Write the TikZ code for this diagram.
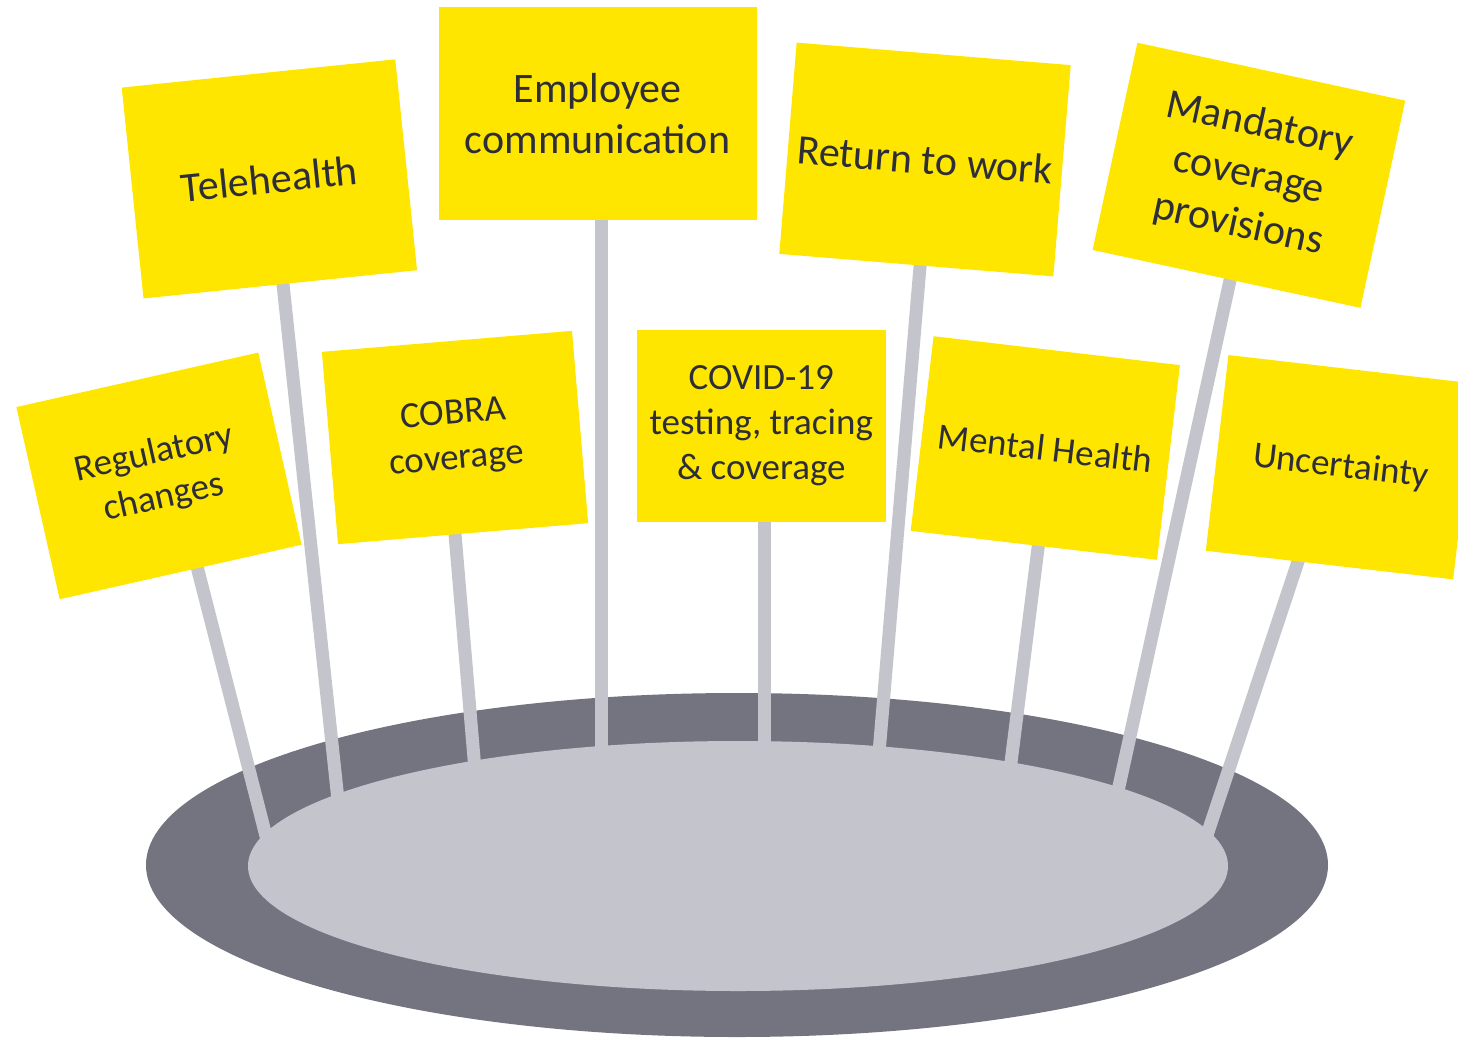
\documentclass[tikz,border=0pt]{standalone}
\usepackage{fontspec}
\setmainfont{Carlito}
\definecolor{signyellow}{HTML}{FFE600}
\definecolor{signtext}{HTML}{2E2E38}
\definecolor{basedark}{HTML}{747480}
\definecolor{baselight}{HTML}{C4C4CD}
\tikzset{sign/.style={
		rectangle, fill=signyellow, text=signtext, inner sep=0pt, align=center,
		font=\fontsize{37}{45}\selectfont
}}
\tikzset{bigsign/.style={
		sign, font=\fontsize{42}{51}\selectfont
}}
\tikzset{pole/.style={
		draw=baselight, line width=13pt
}}

\begin{document}
\begin{tikzpicture}[x=1pt,y=-1pt]
  \useasboundingbox (0,0) rectangle (1458,1039);
  \clip (0,0) rectangle (1458,1039);

  % base
  \fill[basedark] (737,865) ellipse [x radius=591, y radius=172];
  \fill[baselight] (738,866) ellipse [x radius=490, y radius=125];

  % poles
  \draw[pole] (180,500) -- (267,840);
  \draw[pole] (274,200) -- (338,800);
  \draw[pole] (447,440) -- (475,770);
  \draw[pole] (601,120) -- (601,755);
  \draw[pole] (764.5,430) -- (764.5,750);
  \draw[pole] (929,160) -- (878.4,760);
  \draw[pole] (1050.4,450) -- (1009.4,775);
  \draw[pole] (1252,180) -- (1116,800);
  \draw[pole] (1328.5,470) -- (1205.3,840);

  % signs, back row
  \node[bigsign, minimum width=275pt, minimum height=212pt, rotate=5.9] (tele) at (269.4,178.9) {Telehealth};
  \node[bigsign, minimum width=318pt, minimum height=213pt] (empl) at (597.5,113.3) {Employee\\communication};
  \node[bigsign, minimum width=275pt, minimum height=212pt, rotate=-4.7] (retw) at (925,159.5) {Return to work};
  \node[bigsign, minimum width=274pt, minimum height=212pt, rotate=-12.2] (mand) at (1248.9,175.3) {Mandatory\\coverage\\provisions};

  % signs, front row
  \node[sign, minimum width=248pt, minimum height=197pt, rotate=12.7] (regu) at (159,475.9) {Regulatory\\changes};
  \node[sign, minimum width=251pt, minimum height=193pt, rotate=4.8] (cobra) at (455,437.5) {COBRA\\coverage};
  \node[sign, minimum width=249pt, minimum height=192pt] (covid) at (761.3,425.5) {COVID-19\\testing, tracing\\\& coverage};
  \node[sign, minimum width=248pt, minimum height=196pt, rotate=-6.7] (mental) at (1045.3,448) {Mental Health};
  \node[sign, minimum width=249pt, minimum height=197pt, rotate=-6.6] (uncert) at (1340.8,467.2) {Uncertainty};
\end{tikzpicture}
\end{document}
